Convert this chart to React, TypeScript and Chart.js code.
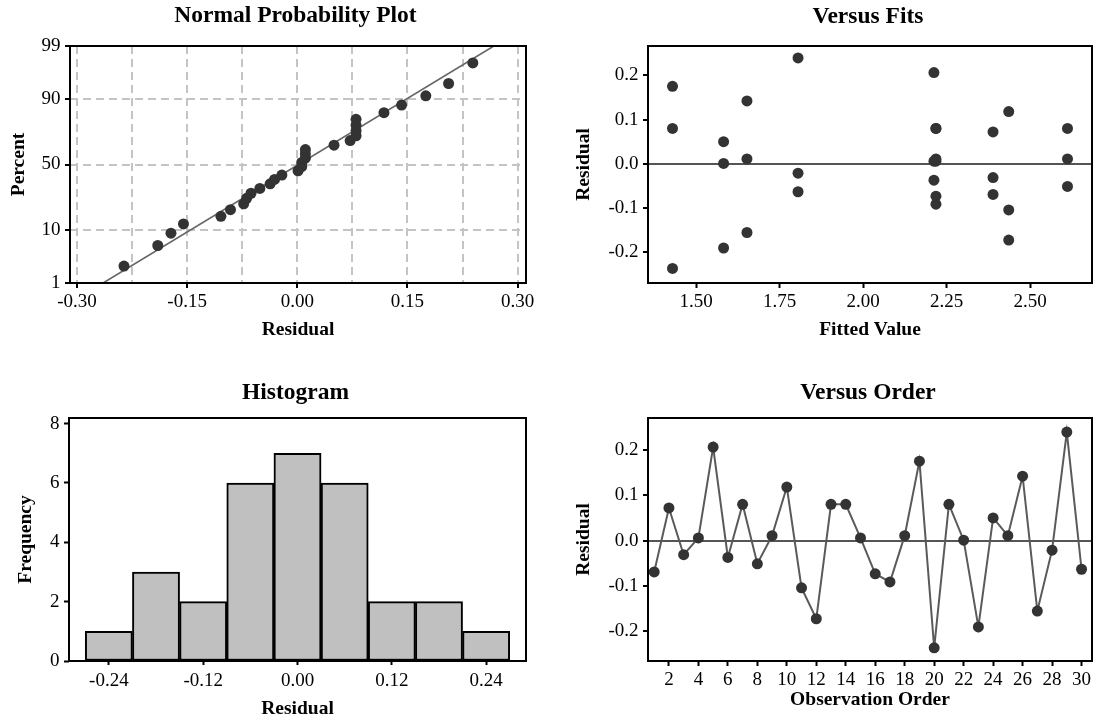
import React, { useEffect, useRef } from "react";
import { Chart, registerables } from "chart.js";

Chart.register(...registerables);

// ---------------- data ----------------
const OBSERVATION_ORDER = [
  1, 2, 3, 4, 5, 6, 7, 8, 9, 10, 11, 12, 13, 14, 15,
  16, 17, 18, 19, 20, 21, 22, 23, 24, 25, 26, 27, 28, 29, 30,
];
const RESIDUALS = [
  -0.069, 0.072, -0.031, 0.006, 0.206, -0.037, 0.08, -0.051, 0.011, 0.118,
  -0.104, -0.172, 0.08, 0.08, 0.006, -0.073, -0.091, 0.011, 0.175, -0.236,
  0.08, 0.001, -0.19, 0.05, 0.011, 0.142, -0.155, -0.021, 0.239, -0.063,
];
const FITTED_VALUES = [
  2.389, 2.389, 2.389, 2.212, 2.212, 2.212, 2.612, 2.612, 2.612, 2.436,
  2.436, 2.436, 2.218, 2.218, 2.218, 2.218, 2.218, 2.218, 1.429, 1.429,
  1.429, 1.582, 1.582, 1.582, 1.652, 1.652, 1.652, 1.805, 1.805, 1.805,
];

const HIST_BIN_CENTERS = [-0.24, -0.18, -0.12, -0.06, 0, 0.06, 0.12, 0.18, 0.24];
const HIST_COUNTS = [1, 3, 2, 6, 7, 6, 2, 2, 1];

const NPP_FIT_LINE_RESIDUAL = [-0.2644, 0.2676];
const NPP_FIT_LINE_PERCENT = [1, 99];

// tick values / labels
const NPP_X_TICKS = [-0.3, -0.225, -0.15, -0.075, 0, 0.075, 0.15, 0.225, 0.3];
const NPP_X_LABELS = ["-0.30", "", "-0.15", "", "0.00", "", "0.15", "", "0.30"];
const NPP_Y_PERCENTS = [1, 10, 50, 90, 99];
const NPP_Y_LABELS = ["1", "10", "50", "90", "99"];
const FITS_X_TICKS = [1.5, 1.75, 2.0, 2.25, 2.5];
const FITS_X_LABELS = ["1.50", "1.75", "2.00", "2.25", "2.50"];
const RESID_Y_TICKS = [-0.2, -0.1, 0, 0.1, 0.2];
const RESID_Y_LABELS = ["-0.2", "-0.1", "0.0", "0.1", "0.2"];
const HIST_X_TICKS = [-0.24, -0.12, 0, 0.12, 0.24];
const HIST_X_LABELS = ["-0.24", "-0.12", "0.00", "0.12", "0.24"];
const HIST_Y_TICKS = [0, 2, 4, 6, 8];
const HIST_Y_LABELS = ["0", "2", "4", "6", "8"];
const ORDER_X_TICKS = [2, 4, 6, 8, 10, 12, 14, 16, 18, 20, 22, 24, 26, 28, 30];
const ORDER_X_LABELS = ["2", "4", "6", "8", "10", "12", "14", "16", "18", "20", "22", "24", "26", "28", "30"];

// axis ranges
const NPP_X_RANGE = [-0.3095, 0.3114];
const NPP_Y_PCT_RANGE = [1, 99];
const FITS_X_RANGE = [1.3556, 2.6854];
const FITS_Y_RANGE = [-0.269, 0.266];
const HIST_X_RANGE = [-0.2907, 0.2907];
const HIST_Y_RANGE = [0, 8.19];
const ORDER_X_RANGE = [0.58, 30.71];
const ORDER_Y_RANGE = [-0.265, 0.27];

// ---------------- helpers ----------------
function normInv(p: number): number {
  const a = [-3.969683028665376e1, 2.209460984245205e2, -2.759285104469687e2, 1.38357751867269e2, -3.066479806614716e1, 2.506628277459239];
  const b = [-5.447609879822406e1, 1.615858368580409e2, -1.556989798598866e2, 6.680131188771972e1, -1.328068155288572e1];
  const c = [-7.784894002430293e-3, -3.223964580411365e-1, -2.400758277161838, -2.54967101582636, 4.374664141464968, 2.938163982698783];
  const d = [7.784695709041462e-3, 3.224671290700398e-1, 2.445134137142996, 3.754408661907416];
  const pl = 0.02425;
  if (p < pl) {
    const q = Math.sqrt(-2 * Math.log(p));
    return (((((c[0] * q + c[1]) * q + c[2]) * q + c[3]) * q + c[4]) * q + c[5]) / ((((d[0] * q + d[1]) * q + d[2]) * q + d[3]) * q + 1);
  }
  if (p > 1 - pl) {
    const q = Math.sqrt(-2 * Math.log(1 - p));
    return -(((((c[0] * q + c[1]) * q + c[2]) * q + c[3]) * q + c[4]) * q + c[5]) / ((((d[0] * q + d[1]) * q + d[2]) * q + d[3]) * q + 1);
  }
  const q = p - 0.5;
  const r = q * q;
  return ((((((a[0] * r + a[1]) * r + a[2]) * r + a[3]) * r + a[4]) * r + a[5]) * q) / (((((b[0] * r + b[1]) * r + b[2]) * r + b[3]) * r + b[4]) * r + 1);
}

const FONT = "'Liberation Serif', 'Times New Roman', Times, serif";
const TITLE_SIZE = 23.5;
const AXIS_TITLE_SIZE = 19.5;
const TICK_SIZE = 19;
const DOT = "#333333";
const CLEAR = "rgba(0,0,0,0)";

type Panel = {
  left: number; top: number; width: number; height: number;
  caL: number; caR: number; caT: number; caB: number;
  titleY: number; xTickY: number; xTitleY: number; yTitleX: number;
  xTickLen: number;
};

const P_NPP: Panel = { left: 0, top: 0, width: 591, height: 362, caL: 70, caR: 526, caT: 46, caB: 283, titleY: 16, xTickY: 302.5, xTitleY: 330.3, yTitleX: 19, xTickLen: 5 };
const P_FITS: Panel = { left: 547, top: 0, width: 642, height: 362, caL: 101, caR: 545, caT: 46, caB: 283, titleY: 16.5, xTickY: 302.5, xTitleY: 330, yTitleX: 36.7, xTickLen: 5 };
const P_HIST: Panel = { left: 0, top: 362, width: 591, height: 361, caL: 69, caR: 526, caT: 56, caB: 299, titleY: 31, xTickY: 319, xTitleY: 347, yTitleX: 26, xTickLen: 4 };
const P_ORDER: Panel = { left: 547, top: 362, width: 642, height: 361, caL: 101, caR: 545, caT: 56, caB: 299, titleY: 31, xTickY: 318.5, xTitleY: 338, yTitleX: 36.7, xTickLen: 5 };

const framePlugin = {
  id: "frame",
  afterDatasetsDraw(chart: any) {
    const { ctx, chartArea: a } = chart;
    ctx.save();
    ctx.strokeStyle = "#000";
    ctx.lineWidth = 2;
    ctx.strokeRect(a.left, a.top, a.right - a.left, a.bottom - a.top);
    ctx.restore();
  },
};

function baseOptions(p: Panel, title: string) {
  const lh = TITLE_SIZE * 1.2;
  const tTop = p.titleY - lh / 2;
  const tBottom = p.caT - lh - tTop;
  return {
    responsive: false,
    maintainAspectRatio: false,
    animation: false as const,
    events: [] as any[],
    layout: { padding: { left: 0, right: 0, top: 0, bottom: 0 } },
    plugins: {
      legend: { display: false },
      tooltip: { enabled: false },
      title: {
        display: true,
        text: title,
        color: "#000",
        font: { family: FONT, size: TITLE_SIZE, weight: "bold" as const },
        padding: { top: tTop, bottom: tBottom },
      },
    },
  };
}

function xScale(p: Panel, range: number[], ticks: number[], labels: string[], title: string, grid: any) {
  const tickLH = TICK_SIZE * 1.2;
  const axLH = AXIS_TITLE_SIZE * 1.2;
  return {
    type: "linear" as const,
    position: "bottom" as const,
    min: range[0],
    max: range[1],
    offset: false,
    afterBuildTicks: (s: any) => {
      s.ticks = ticks.map((v) => ({ value: v }));
    },
    afterFit: (s: any) => {
      s.height = p.height - p.caB;
      s.paddingLeft = 0;
      s.paddingRight = p.width - p.caR;
      s.paddingTop = 0;
      s.paddingBottom = 0;
    },
    ticks: {
      autoSkip: false,
      maxRotation: 0,
      minRotation: 0,
      color: "#000",
      font: { family: FONT, size: TICK_SIZE },
      padding: p.xTickY - p.caB - p.xTickLen - tickLH / 2,
      callback: (_v: any, i: number) => labels[i],
    },
    grid: { offset: false, tickLength: p.xTickLen, tickWidth: 2, tickColor: "#000", ...grid },
    border: { display: false, ...(grid.dash ? { dash: grid.dash } : {}) },
    title: {
      display: true,
      text: title,
      color: "#000",
      font: { family: FONT, size: AXIS_TITLE_SIZE, weight: "bold" as const },
      padding: { top: 0, bottom: p.height - p.xTitleY - axLH / 2 },
    },
  };
}

function yScale(p: Panel, range: number[], ticks: number[], labels: string[], title: string, grid: any) {
  const axLH = AXIS_TITLE_SIZE * 1.2;
  return {
    type: "linear" as const,
    position: "left" as const,
    min: range[0],
    max: range[1],
    afterBuildTicks: (s: any) => {
      s.ticks = ticks.map((v) => ({ value: v }));
    },
    afterFit: (s: any) => {
      s.width = p.caL;
      s.paddingLeft = 0;
      s.paddingRight = 0;
      s.paddingTop = 0;
      s.paddingBottom = 0;
    },
    ticks: {
      autoSkip: false,
      color: "#000",
      font: { family: FONT, size: TICK_SIZE },
      padding: 4.5,
      callback: (_v: any, i: number) => labels[i],
    },
    grid: { tickLength: 5, tickWidth: 2, tickColor: "#000", ...grid },
    border: { display: false, ...(grid.dash ? { dash: grid.dash } : {}) },
    title: {
      display: true,
      text: title,
      color: "#000",
      font: { family: FONT, size: AXIS_TITLE_SIZE, weight: "bold" as const },
      padding: { top: p.yTitleX - axLH / 2, bottom: 0 },
    },
  };
}

const zeroLineGrid = {
  drawOnChartArea: true,
  lineWidth: 2,
  color: (c: any) => (c.tick && c.tick.value === 0 ? "#555555" : CLEAR),
};

// ---------------- chart configs ----------------
function nppConfig(): any {
  const p = P_NPP;
  const sorted = [...RESIDUALS].sort((a, b) => a - b);
  const n = sorted.length;
  const pts = sorted.map((r, i) => ({ x: r, y: normInv((i + 1 - 0.3) / (n + 0.4)) }));
  const line = NPP_FIT_LINE_RESIDUAL.map((r, i) => ({ x: r, y: normInv(NPP_FIT_LINE_PERCENT[i] / 100) }));
  const yTicks = NPP_Y_PERCENTS.map((v) => normInv(v / 100));
  const dashGrid = { color: "#c4c4c4", lineWidth: 2, dash: [8, 5] };
  return {
    type: "scatter",
    data: {
      datasets: [
        { data: pts, pointRadius: 5.5, backgroundColor: DOT, borderColor: DOT, borderWidth: 0, showLine: false },
        { data: line, showLine: true, pointRadius: 0, borderColor: "#666666", borderWidth: 1.6, fill: false },
      ],
    },
    options: {
      ...baseOptions(p, "Normal Probability Plot"),
      scales: {
        x: xScale(p, NPP_X_RANGE, NPP_X_TICKS, NPP_X_LABELS, "Residual", {
          ...dashGrid,
          tickColor: (c: any) => (NPP_X_LABELS[c.index] ? "#000" : CLEAR),
        }),
        y: yScale(
          p,
          NPP_Y_PCT_RANGE.map((v) => normInv(v / 100)),
          yTicks,
          NPP_Y_LABELS,
          "Percent",
          dashGrid
        ),
      },
    },
    plugins: [framePlugin],
  };
}

function fitsConfig(): any {
  const p = P_FITS;
  const pts = FITTED_VALUES.map((f, i) => ({ x: f, y: RESIDUALS[i] }));
  return {
    type: "scatter",
    data: {
      datasets: [{ data: pts, pointRadius: 5.5, backgroundColor: DOT, borderColor: DOT, borderWidth: 0 }],
    },
    options: {
      ...baseOptions(p, "Versus Fits"),
      scales: {
        x: xScale(p, FITS_X_RANGE, FITS_X_TICKS, FITS_X_LABELS, "Fitted Value", { drawOnChartArea: false }),
        y: yScale(p, FITS_Y_RANGE, RESID_Y_TICKS, RESID_Y_LABELS, "Residual", zeroLineGrid),
      },
    },
    plugins: [framePlugin],
  };
}

function histConfig(): any {
  const p = P_HIST;
  const bars = HIST_BIN_CENTERS.map((c, i) => ({ x: c, y: HIST_COUNTS[i] }));
  return {
    type: "bar",
    data: {
      datasets: [
        {
          data: bars,
          backgroundColor: "#c0c0c0",
          borderColor: "#000",
          borderWidth: 2,
          borderSkipped: false,
          barPercentage: 1,
          categoryPercentage: 1,
        },
      ],
    },
    options: {
      ...baseOptions(p, "Histogram"),
      scales: {
        x: xScale(p, HIST_X_RANGE, HIST_X_TICKS, HIST_X_LABELS, "Residual", { drawOnChartArea: false }),
        y: { ...yScale(p, HIST_Y_RANGE, HIST_Y_TICKS, HIST_Y_LABELS, "Frequency", { drawOnChartArea: false }), beginAtZero: true },
      },
    },
    plugins: [framePlugin],
  };
}

function orderConfig(): any {
  const p = P_ORDER;
  const pts = OBSERVATION_ORDER.map((o, i) => ({ x: o, y: RESIDUALS[i] }));
  return {
    type: "line",
    data: {
      datasets: [
        {
          data: pts,
          borderColor: "#5a5a5a",
          borderWidth: 2,
          pointRadius: 5.5,
          pointBackgroundColor: DOT,
          pointBorderColor: DOT,
          pointBorderWidth: 0,
          fill: false,
          tension: 0,
        },
      ],
    },
    options: {
      ...baseOptions(p, "Versus Order"),
      scales: {
        x: xScale(p, ORDER_X_RANGE, ORDER_X_TICKS, ORDER_X_LABELS, "Observation Order", { drawOnChartArea: false }),
        y: yScale(p, ORDER_Y_RANGE, RESID_Y_TICKS, RESID_Y_LABELS, "Residual", zeroLineGrid),
      },
    },
    plugins: [framePlugin],
  };
}

// ---------------- components ----------------
function ChartPanel({ panel, build }: { panel: Panel; build: () => any }) {
  const ref = useRef<HTMLCanvasElement>(null);
  useEffect(() => {
    const chart = new Chart(ref.current as HTMLCanvasElement, build());
    return () => chart.destroy();
  }, []);
  return (
    <canvas
      ref={ref}
      width={panel.width}
      height={panel.height}
      style={{
        position: "absolute",
        left: panel.left,
        top: panel.top,
        width: panel.width,
        height: panel.height,
      }}
    />
  );
}

export default function App() {
  return (
    <div
      style={{
        position: "fixed",
        left: 0,
        top: 0,
        width: 1095,
        height: 723,
        overflow: "hidden",
        background: "#fff",
      }}
    >
      <ChartPanel panel={P_NPP} build={nppConfig} />
      <ChartPanel panel={P_FITS} build={fitsConfig} />
      <ChartPanel panel={P_HIST} build={histConfig} />
      <ChartPanel panel={P_ORDER} build={orderConfig} />
    </div>
  );
}
